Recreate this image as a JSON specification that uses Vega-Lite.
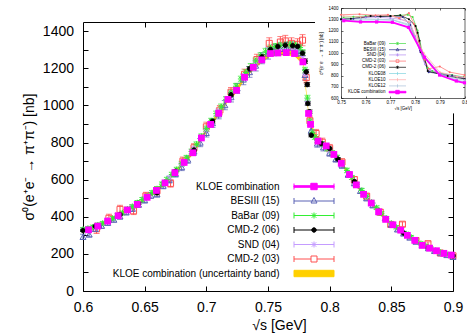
{
"$schema": "https://vega.github.io/schema/vega-lite/v6.json",
"width": 370, "height": 269,
"autosize": {"type": "none"},
"padding": {"left": 83, "top": 22, "right": 14, "bottom": 44},
"background": "white",
"config": {
  "font": "Liberation Sans",
  "view": {"stroke": null},
  "axis": {"grid": false, "domainColor": "#000", "tickColor": "#000", "labelColor": "#000", "titleColor": "#000", "titleFontWeight": "normal", "labelFlush": false, "labelOverlap": false, "tickWidth": 1, "domainWidth": 1, "labelFont": "Liberation Sans", "titleFont": "Liberation Sans"},
  "legend": {"labelFont": "Liberation Sans", "labelColor": "#000"}
},
"datasets": {
"kloe": [
{"s":0.6045,"v":330,"d":6,"b":8},{"s":0.612,"v":350,"d":6,"b":8},{"s":0.620,"v":377,"d":6,"b":8},{"s":0.6285,"v":406,"d":6,"b":8},
{"s":0.636,"v":437,"d":6,"b":9},{"s":0.644,"v":467,"d":6,"b":9},{"s":0.652,"v":505,"d":7,"b":9},{"s":0.6595,"v":542,"d":7,"b":10},
{"s":0.6665,"v":583,"d":7,"b":10},{"s":0.6745,"v":638,"d":7,"b":10},{"s":0.682,"v":693,"d":8,"b":11},{"s":0.689,"v":745,"d":8,"b":11},
{"s":0.696,"v":825,"d":8,"b":12},{"s":0.7035,"v":898,"d":8,"b":12},{"s":0.710,"v":958,"d":9,"b":12},{"s":0.7175,"v":1033,"d":9,"b":13},
{"s":0.7245,"v":1082,"d":9,"b":13},{"s":0.731,"v":1152,"d":9,"b":13},{"s":0.738,"v":1206,"d":10,"b":14},{"s":0.745,"v":1246,"d":10,"b":14},
{"s":0.752,"v":1280,"d":10,"b":14},{"s":0.758,"v":1283,"d":10,"b":14},{"s":0.7648,"v":1285,"d":10,"b":14},{"s":0.7715,"v":1280,"d":10,"b":14},
{"s":0.7783,"v":1235,"d":10,"b":14},{"s":0.7829,"v":957,"d":9,"b":12},{"s":0.7845,"v":898,"d":9,"b":12},{"s":0.7905,"v":808,"d":8,"b":11},
{"s":0.7972,"v":782,"d":8,"b":11},{"s":0.8034,"v":736,"d":8,"b":10},{"s":0.8094,"v":688,"d":7,"b":10},{"s":0.8161,"v":628,"d":7,"b":9},
{"s":0.8216,"v":572,"d":7,"b":9},{"s":0.8275,"v":521,"d":6,"b":8},{"s":0.8337,"v":474,"d":6,"b":8},{"s":0.8397,"v":427,"d":6,"b":8},
{"s":0.8454,"v":386,"d":5,"b":7},{"s":0.8513,"v":357,"d":5,"b":7},{"s":0.8576,"v":328,"d":5,"b":7},{"s":0.863,"v":300,"d":5,"b":6},
{"s":0.869,"v":273,"d":4,"b":6},{"s":0.875,"v":246,"d":4,"b":6},{"s":0.881,"v":231,"d":4,"b":6},{"s":0.8866,"v":217,"d":4,"b":6},
{"s":0.8926,"v":203,"d":4,"b":5},{"s":0.8986,"v":194,"d":4,"b":5}
],
"main": [
{"e":"CMD-2 (03)","s":0.611,"v":335,"d":25},{"e":"CMD-2 (03)","s":0.621,"v":392,"d":22},{"e":"CMD-2 (03)","s":0.630,"v":440,"d":22},{"e":"CMD-2 (03)","s":0.641,"v":432,"d":20},
{"e":"CMD-2 (03)","s":0.651,"v":512,"d":20},{"e":"CMD-2 (03)","s":0.660,"v":540,"d":22},{"e":"CMD-2 (03)","s":0.671,"v":580,"d":20},{"e":"CMD-2 (03)","s":0.681,"v":700,"d":22},
{"e":"CMD-2 (03)","s":0.690,"v":772,"d":22},{"e":"CMD-2 (03)","s":0.700,"v":885,"d":25},{"e":"CMD-2 (03)","s":0.711,"v":975,"d":25},{"e":"CMD-2 (03)","s":0.720,"v":1072,"d":25},
{"e":"CMD-2 (03)","s":0.731,"v":1168,"d":28},{"e":"CMD-2 (03)","s":0.741,"v":1248,"d":28},{"e":"CMD-2 (03)","s":0.751,"v":1335,"d":30},{"e":"CMD-2 (03)","s":0.760,"v":1342,"d":30},
{"e":"CMD-2 (03)","s":0.764,"v":1348,"d":30},{"e":"CMD-2 (03)","s":0.769,"v":1335,"d":30},{"e":"CMD-2 (03)","s":0.774,"v":1330,"d":30},{"e":"CMD-2 (03)","s":0.778,"v":1352,"d":30},
{"e":"CMD-2 (03)","s":0.781,"v":1150,"d":28},{"e":"CMD-2 (03)","s":0.784,"v":918,"d":25},{"e":"CMD-2 (03)","s":0.789,"v":849,"d":22},{"e":"CMD-2 (03)","s":0.794,"v":802,"d":22},
{"e":"CMD-2 (03)","s":0.800,"v":770,"d":20},{"e":"CMD-2 (03)","s":0.810,"v":695,"d":18},{"e":"CMD-2 (03)","s":0.820,"v":600,"d":17},{"e":"CMD-2 (03)","s":0.830,"v":511,"d":15},
{"e":"CMD-2 (03)","s":0.841,"v":425,"d":14},{"e":"CMD-2 (03)","s":0.8495,"v":359,"d":12},{"e":"CMD-2 (03)","s":0.859,"v":360,"d":12},{"e":"CMD-2 (03)","s":0.870,"v":272,"d":10},
{"e":"CMD-2 (03)","s":0.8797,"v":255,"d":10},{"e":"CMD-2 (03)","s":0.8897,"v":205,"d":8},{"e":"CMD-2 (03)","s":0.900,"v":190,"d":8},
{"e":"BESIII (15)","s":0.600,"v":292,"d":14},{"e":"BESIII (15)","s":0.605,"v":305,"d":14},{"e":"BESIII (15)","s":0.610,"v":335,"d":14},{"e":"BESIII (15)","s":0.615,"v":352,"d":14},
{"e":"BESIII (15)","s":0.620,"v":368,"d":14},{"e":"BESIII (15)","s":0.625,"v":385,"d":14},{"e":"BESIII (15)","s":0.630,"v":402,"d":14},{"e":"BESIII (15)","s":0.635,"v":425,"d":15},
{"e":"BESIII (15)","s":0.640,"v":444,"d":15},{"e":"BESIII (15)","s":0.645,"v":466,"d":15},{"e":"BESIII (15)","s":0.650,"v":490,"d":16},{"e":"BESIII (15)","s":0.655,"v":515,"d":16},
{"e":"BESIII (15)","s":0.660,"v":522,"d":16},{"e":"BESIII (15)","s":0.665,"v":568,"d":17},{"e":"BESIII (15)","s":0.670,"v":600,"d":18},{"e":"BESIII (15)","s":0.675,"v":632,"d":18},
{"e":"BESIII (15)","s":0.680,"v":668,"d":19},{"e":"BESIII (15)","s":0.685,"v":708,"d":20},{"e":"BESIII (15)","s":0.690,"v":752,"d":20},{"e":"BESIII (15)","s":0.695,"v":800,"d":22},
{"e":"BESIII (15)","s":0.700,"v":852,"d":22},{"e":"BESIII (15)","s":0.705,"v":905,"d":23},{"e":"BESIII (15)","s":0.710,"v":952,"d":24},{"e":"BESIII (15)","s":0.715,"v":1002,"d":25},
{"e":"BESIII (15)","s":0.720,"v":1045,"d":26},{"e":"BESIII (15)","s":0.725,"v":1092,"d":27},{"e":"BESIII (15)","s":0.730,"v":1140,"d":28},{"e":"BESIII (15)","s":0.735,"v":1180,"d":28},
{"e":"BESIII (15)","s":0.740,"v":1215,"d":29},{"e":"BESIII (15)","s":0.745,"v":1255,"d":30},{"e":"BESIII (15)","s":0.750,"v":1280,"d":30},{"e":"BESIII (15)","s":0.755,"v":1298,"d":30},
{"e":"BESIII (15)","s":0.760,"v":1305,"d":30},{"e":"BESIII (15)","s":0.765,"v":1310,"d":30},{"e":"BESIII (15)","s":0.770,"v":1312,"d":30},{"e":"BESIII (15)","s":0.775,"v":1295,"d":30},
{"e":"BESIII (15)","s":0.780,"v":1165,"d":28},{"e":"BESIII (15)","s":0.785,"v":865,"d":22},{"e":"BESIII (15)","s":0.790,"v":795,"d":20},{"e":"BESIII (15)","s":0.795,"v":775,"d":20},
{"e":"BESIII (15)","s":0.800,"v":745,"d":19},{"e":"BESIII (15)","s":0.805,"v":712,"d":18},{"e":"BESIII (15)","s":0.810,"v":678,"d":17},{"e":"BESIII (15)","s":0.815,"v":628,"d":16},
{"e":"BESIII (15)","s":0.820,"v":582,"d":15},{"e":"BESIII (15)","s":0.825,"v":540,"d":14},{"e":"BESIII (15)","s":0.830,"v":500,"d":13},{"e":"BESIII (15)","s":0.835,"v":462,"d":12},
{"e":"BESIII (15)","s":0.840,"v":425,"d":12},{"e":"BESIII (15)","s":0.845,"v":392,"d":11},{"e":"BESIII (15)","s":0.850,"v":358,"d":10},{"e":"BESIII (15)","s":0.855,"v":332,"d":10},
{"e":"BESIII (15)","s":0.860,"v":310,"d":9},{"e":"BESIII (15)","s":0.865,"v":288,"d":9},{"e":"BESIII (15)","s":0.870,"v":266,"d":8},{"e":"BESIII (15)","s":0.875,"v":247,"d":8},
{"e":"BESIII (15)","s":0.880,"v":231,"d":7},{"e":"BESIII (15)","s":0.885,"v":216,"d":7},{"e":"BESIII (15)","s":0.890,"v":204,"d":7},{"e":"BESIII (15)","s":0.895,"v":194,"d":6},
{"e":"BESIII (15)","s":0.900,"v":184,"d":6},
{"e":"SND (04)","s":0.600,"v":330,"d":6},{"e":"SND (04)","s":0.610,"v":348,"d":6},{"e":"SND (04)","s":0.620,"v":378,"d":7},{"e":"SND (04)","s":0.630,"v":412,"d":7},
{"e":"SND (04)","s":0.640,"v":455,"d":8},{"e":"SND (04)","s":0.650,"v":500,"d":8},{"e":"SND (04)","s":0.660,"v":548,"d":9},{"e":"SND (04)","s":0.670,"v":610,"d":10},
{"e":"SND (04)","s":0.680,"v":682,"d":11},{"e":"SND (04)","s":0.690,"v":768,"d":12},{"e":"SND (04)","s":0.700,"v":870,"d":13},{"e":"SND (04)","s":0.710,"v":968,"d":15},
{"e":"SND (04)","s":0.720,"v":1062,"d":16},{"e":"SND (04)","s":0.730,"v":1155,"d":17},{"e":"SND (04)","s":0.740,"v":1232,"d":18},{"e":"SND (04)","s":0.750,"v":1296,"d":19},
{"e":"SND (04)","s":0.760,"v":1318,"d":20},{"e":"SND (04)","s":0.764,"v":1322,"d":20},{"e":"SND (04)","s":0.770,"v":1316,"d":20},{"e":"SND (04)","s":0.774,"v":1305,"d":20},
{"e":"SND (04)","s":0.778,"v":1265,"d":19},{"e":"SND (04)","s":0.780,"v":1170,"d":18},{"e":"SND (04)","s":0.782,"v":1020,"d":16},{"e":"SND (04)","s":0.784,"v":910,"d":14},
{"e":"SND (04)","s":0.786,"v":855,"d":13},{"e":"SND (04)","s":0.790,"v":810,"d":12},{"e":"SND (04)","s":0.794,"v":790,"d":12},{"e":"SND (04)","s":0.800,"v":755,"d":11},
{"e":"SND (04)","s":0.810,"v":688,"d":10},{"e":"SND (04)","s":0.820,"v":590,"d":9},{"e":"SND (04)","s":0.830,"v":506,"d":8},{"e":"SND (04)","s":0.840,"v":432,"d":7},
{"e":"SND (04)","s":0.850,"v":364,"d":6},{"e":"SND (04)","s":0.860,"v":314,"d":5},{"e":"SND (04)","s":0.870,"v":271,"d":5},{"e":"SND (04)","s":0.880,"v":234,"d":4},
{"e":"SND (04)","s":0.890,"v":207,"d":4},{"e":"SND (04)","s":0.900,"v":189,"d":4},
{"e":"BaBar (09)","s":0.600,"v":332,"d":10},{"e":"BaBar (09)","s":0.604,"v":338,"d":10},{"e":"BaBar (09)","s":0.608,"v":345,"d":10},{"e":"BaBar (09)","s":0.612,"v":356,"d":10},
{"e":"BaBar (09)","s":0.616,"v":365,"d":10},{"e":"BaBar (09)","s":0.620,"v":380,"d":10},{"e":"BaBar (09)","s":0.624,"v":392,"d":10},{"e":"BaBar (09)","s":0.628,"v":408,"d":10},
{"e":"BaBar (09)","s":0.632,"v":421,"d":10},{"e":"BaBar (09)","s":0.636,"v":442,"d":10},{"e":"BaBar (09)","s":0.640,"v":455,"d":11},{"e":"BaBar (09)","s":0.644,"v":476,"d":11},
{"e":"BaBar (09)","s":0.648,"v":493,"d":11},{"e":"BaBar (09)","s":0.652,"v":512,"d":11},{"e":"BaBar (09)","s":0.656,"v":530,"d":11},{"e":"BaBar (09)","s":0.660,"v":551,"d":12},
{"e":"BaBar (09)","s":0.664,"v":576,"d":12},{"e":"BaBar (09)","s":0.668,"v":601,"d":12},{"e":"BaBar (09)","s":0.672,"v":628,"d":12},{"e":"BaBar (09)","s":0.676,"v":655,"d":12},
{"e":"BaBar (09)","s":0.680,"v":686,"d":13},{"e":"BaBar (09)","s":0.684,"v":718,"d":13},{"e":"BaBar (09)","s":0.688,"v":752,"d":13},{"e":"BaBar (09)","s":0.692,"v":791,"d":13},
{"e":"BaBar (09)","s":0.696,"v":833,"d":14},{"e":"BaBar (09)","s":0.700,"v":875,"d":14},{"e":"BaBar (09)","s":0.704,"v":917,"d":14},{"e":"BaBar (09)","s":0.708,"v":956,"d":14},
{"e":"BaBar (09)","s":0.712,"v":993,"d":15},{"e":"BaBar (09)","s":0.716,"v":1033,"d":15},{"e":"BaBar (09)","s":0.720,"v":1068,"d":15},{"e":"BaBar (09)","s":0.724,"v":1104,"d":15},
{"e":"BaBar (09)","s":0.728,"v":1143,"d":15},{"e":"BaBar (09)","s":0.732,"v":1178,"d":15},{"e":"BaBar (09)","s":0.736,"v":1210,"d":16},{"e":"BaBar (09)","s":0.740,"v":1240,"d":16},
{"e":"BaBar (09)","s":0.744,"v":1268,"d":16},{"e":"BaBar (09)","s":0.748,"v":1292,"d":16},{"e":"BaBar (09)","s":0.752,"v":1310,"d":16},{"e":"BaBar (09)","s":0.756,"v":1318,"d":16},
{"e":"BaBar (09)","s":0.760,"v":1324,"d":16},{"e":"BaBar (09)","s":0.764,"v":1326,"d":16},{"e":"BaBar (09)","s":0.768,"v":1328,"d":16},{"e":"BaBar (09)","s":0.772,"v":1325,"d":16},
{"e":"BaBar (09)","s":0.776,"v":1312,"d":16},{"e":"BaBar (09)","s":0.778,"v":1285,"d":16},{"e":"BaBar (09)","s":0.780,"v":1190,"d":16},{"e":"BaBar (09)","s":0.782,"v":1040,"d":15},
{"e":"BaBar (09)","s":0.784,"v":915,"d":14},{"e":"BaBar (09)","s":0.786,"v":855,"d":14},{"e":"BaBar (09)","s":0.788,"v":830,"d":13},{"e":"BaBar (09)","s":0.790,"v":812,"d":13},
{"e":"BaBar (09)","s":0.794,"v":792,"d":13},{"e":"BaBar (09)","s":0.798,"v":768,"d":13},{"e":"BaBar (09)","s":0.802,"v":745,"d":12},{"e":"BaBar (09)","s":0.806,"v":720,"d":12},
{"e":"BaBar (09)","s":0.810,"v":690,"d":12},{"e":"BaBar (09)","s":0.814,"v":650,"d":12},{"e":"BaBar (09)","s":0.818,"v":612,"d":11},{"e":"BaBar (09)","s":0.822,"v":575,"d":11},
{"e":"BaBar (09)","s":0.826,"v":542,"d":11},{"e":"BaBar (09)","s":0.830,"v":509,"d":10},{"e":"BaBar (09)","s":0.834,"v":479,"d":10},{"e":"BaBar (09)","s":0.838,"v":449,"d":10},
{"e":"BaBar (09)","s":0.842,"v":419,"d":10},{"e":"BaBar (09)","s":0.846,"v":392,"d":9},{"e":"BaBar (09)","s":0.850,"v":365,"d":9},{"e":"BaBar (09)","s":0.854,"v":344,"d":9},
{"e":"BaBar (09)","s":0.858,"v":325,"d":9},{"e":"BaBar (09)","s":0.862,"v":308,"d":8},{"e":"BaBar (09)","s":0.866,"v":291,"d":8},{"e":"BaBar (09)","s":0.870,"v":273,"d":8},
{"e":"BaBar (09)","s":0.874,"v":256,"d":8},{"e":"BaBar (09)","s":0.878,"v":243,"d":8},{"e":"BaBar (09)","s":0.882,"v":231,"d":7},{"e":"BaBar (09)","s":0.886,"v":219,"d":7},
{"e":"BaBar (09)","s":0.890,"v":209,"d":7},{"e":"BaBar (09)","s":0.894,"v":201,"d":7},{"e":"BaBar (09)","s":0.898,"v":194,"d":7},
{"e":"CMD-2 (06)","s":0.600,"v":326,"d":5},{"e":"CMD-2 (06)","s":0.610,"v":349,"d":5},{"e":"CMD-2 (06)","s":0.630,"v":412,"d":6},{"e":"CMD-2 (06)","s":0.645,"v":472,"d":6},
{"e":"CMD-2 (06)","s":0.660,"v":530,"d":7},{"e":"CMD-2 (06)","s":0.675,"v":645,"d":8},{"e":"CMD-2 (06)","s":0.690,"v":760,"d":9},{"e":"CMD-2 (06)","s":0.705,"v":915,"d":10},
{"e":"CMD-2 (06)","s":0.720,"v":1058,"d":11},{"e":"CMD-2 (06)","s":0.735,"v":1198,"d":12},{"e":"CMD-2 (06)","s":0.745,"v":1262,"d":12},{"e":"CMD-2 (06)","s":0.752,"v":1302,"d":12},
{"e":"CMD-2 (06)","s":0.758,"v":1318,"d":12},{"e":"CMD-2 (06)","s":0.764,"v":1325,"d":12},{"e":"CMD-2 (06)","s":0.770,"v":1322,"d":12},{"e":"CMD-2 (06)","s":0.774,"v":1318,"d":12},
{"e":"CMD-2 (06)","s":0.778,"v":1282,"d":12},{"e":"CMD-2 (06)","s":0.780,"v":1239,"d":12},{"e":"CMD-2 (06)","s":0.781,"v":1181,"d":12},{"e":"CMD-2 (06)","s":0.7818,"v":1113,"d":11},
{"e":"CMD-2 (06)","s":0.7823,"v":1011,"d":10},{"e":"CMD-2 (06)","s":0.7837,"v":966,"d":10},{"e":"CMD-2 (06)","s":0.7851,"v":840,"d":9},{"e":"CMD-2 (06)","s":0.7932,"v":795,"d":8},
{"e":"CMD-2 (06)","s":0.800,"v":768,"d":8},{"e":"CMD-2 (06)","s":0.8067,"v":711,"d":8},{"e":"CMD-2 (06)","s":0.820,"v":590,"d":7},{"e":"CMD-2 (06)","s":0.840,"v":430,"d":6},
{"e":"CMD-2 (06)","s":0.860,"v":312,"d":5},{"e":"CMD-2 (06)","s":0.880,"v":234,"d":5},{"e":"CMD-2 (06)","s":0.900,"v":190,"d":4}
],
"ins": [
{"e":"BaBar (09)","s":0.751,"v":1318},{"e":"BaBar (09)","s":0.755,"v":1322},{"e":"BaBar (09)","s":0.760,"v":1328},{"e":"BaBar (09)","s":0.765,"v":1330},{"e":"BaBar (09)","s":0.770,"v":1330},
{"e":"BaBar (09)","s":0.774,"v":1335},{"e":"BaBar (09)","s":0.777,"v":1340},{"e":"BaBar (09)","s":0.779,"v":1320},{"e":"BaBar (09)","s":0.781,"v":1200},{"e":"BaBar (09)","s":0.783,"v":1000},
{"e":"BaBar (09)","s":0.785,"v":870},{"e":"BaBar (09)","s":0.787,"v":840},{"e":"BaBar (09)","s":0.790,"v":820},{"e":"BaBar (09)","s":0.795,"v":805},{"e":"BaBar (09)","s":0.800,"v":785},
{"e":"BESIII (15)","s":0.750,"v":1300},{"e":"BESIII (15)","s":0.755,"v":1305},{"e":"BESIII (15)","s":0.760,"v":1320},{"e":"BESIII (15)","s":0.765,"v":1330},{"e":"BESIII (15)","s":0.770,"v":1325},
{"e":"BESIII (15)","s":0.775,"v":1320},{"e":"BESIII (15)","s":0.778,"v":1250},{"e":"BESIII (15)","s":0.782,"v":1020},{"e":"BESIII (15)","s":0.7855,"v":830},{"e":"BESIII (15)","s":0.790,"v":815},
{"e":"BESIII (15)","s":0.795,"v":800},{"e":"BESIII (15)","s":0.800,"v":775},
{"e":"SND (04)","s":0.750,"v":1295},{"e":"SND (04)","s":0.760,"v":1315},{"e":"SND (04)","s":0.764,"v":1320},{"e":"SND (04)","s":0.770,"v":1310},{"e":"SND (04)","s":0.774,"v":1300},
{"e":"SND (04)","s":0.778,"v":1270},{"e":"SND (04)","s":0.780,"v":1150},{"e":"SND (04)","s":0.782,"v":1010},{"e":"SND (04)","s":0.784,"v":900},{"e":"SND (04)","s":0.786,"v":850},
{"e":"SND (04)","s":0.790,"v":815},{"e":"SND (04)","s":0.794,"v":800},{"e":"SND (04)","s":0.800,"v":780},
{"e":"CMD-2 (03)","s":0.750,"v":1340},{"e":"CMD-2 (03)","s":0.7575,"v":1345},{"e":"CMD-2 (03)","s":0.764,"v":1335},{"e":"CMD-2 (03)","s":0.769,"v":1340},{"e":"CMD-2 (03)","s":0.7735,"v":1310},
{"e":"CMD-2 (03)","s":0.7775,"v":1355},{"e":"CMD-2 (03)","s":0.7795,"v":1260},{"e":"CMD-2 (03)","s":0.7815,"v":1100},{"e":"CMD-2 (03)","s":0.7838,"v":940},{"e":"CMD-2 (03)","s":0.7855,"v":860},
{"e":"CMD-2 (03)","s":0.790,"v":880},{"e":"CMD-2 (03)","s":0.794,"v":830},{"e":"CMD-2 (03)","s":0.800,"v":805},
{"e":"CMD-2 (06)","s":0.750,"v":1300},{"e":"CMD-2 (06)","s":0.754,"v":1305},{"e":"CMD-2 (06)","s":0.758,"v":1315},{"e":"CMD-2 (06)","s":0.762,"v":1330},{"e":"CMD-2 (06)","s":0.766,"v":1325},
{"e":"CMD-2 (06)","s":0.770,"v":1330},{"e":"CMD-2 (06)","s":0.774,"v":1335},{"e":"CMD-2 (06)","s":0.7775,"v":1300},{"e":"CMD-2 (06)","s":0.7802,"v":1240},{"e":"CMD-2 (06)","s":0.781,"v":1180},
{"e":"CMD-2 (06)","s":0.7818,"v":1110},{"e":"CMD-2 (06)","s":0.7823,"v":1010},{"e":"CMD-2 (06)","s":0.7837,"v":965},{"e":"CMD-2 (06)","s":0.7851,"v":840},{"e":"CMD-2 (06)","s":0.7932,"v":795},
{"e":"CMD-2 (06)","s":0.800,"v":770},
{"e":"KLOE08","s":0.751,"v":1290},{"e":"KLOE08","s":0.758,"v":1293},{"e":"KLOE08","s":0.765,"v":1295},{"e":"KLOE08","s":0.771,"v":1292},{"e":"KLOE08","s":0.7775,"v":1245},
{"e":"KLOE08","s":0.7835,"v":970},{"e":"KLOE08","s":0.790,"v":812},{"e":"KLOE08","s":0.797,"v":758},{"e":"KLOE08","s":0.800,"v":745},
{"e":"KLOE10","s":0.751,"v":1330},{"e":"KLOE10","s":0.758,"v":1320},{"e":"KLOE10","s":0.765,"v":1335},{"e":"KLOE10","s":0.771,"v":1330},{"e":"KLOE10","s":0.7775,"v":1275},
{"e":"KLOE10","s":0.7835,"v":1000},{"e":"KLOE10","s":0.790,"v":830},{"e":"KLOE10","s":0.797,"v":790},{"e":"KLOE10","s":0.800,"v":785},
{"e":"KLOE12","s":0.751,"v":1300},{"e":"KLOE12","s":0.758,"v":1305},{"e":"KLOE12","s":0.765,"v":1300},{"e":"KLOE12","s":0.771,"v":1295},{"e":"KLOE12","s":0.7775,"v":1255},
{"e":"KLOE12","s":0.7835,"v":980},{"e":"KLOE12","s":0.790,"v":815},{"e":"KLOE12","s":0.797,"v":770},{"e":"KLOE12","s":0.800,"v":760}
],
"insk": [
{"s":0.7511,"v":1287},{"s":0.7579,"v":1276},{"s":0.7644,"v":1276},{"s":0.7708,"v":1273},{"s":0.7773,"v":1228},
{"s":0.7838,"v":962},{"s":0.7899,"v":804},{"s":0.7967,"v":751},{"s":0.800,"v":735}
]
},
"resolve": {"scale": {"x": "independent", "y": "independent", "color": "independent", "shape": "independent", "fill": "independent", "stroke": "independent"}, "axis": {"x": "independent", "y": "independent"}},
"layer": [
{"data": {"name": "kloe"},
 "mark": {"type": "errorband", "color": "#ffd000", "band": {"opacity": 1}, "borders": false},
 "encoding": {
  "x": {"field": "s", "type": "quantitative", "scale": {"domain": [0.6, 0.9], "range": [0, 370], "nice": false, "zero": false}, "axis": null},
  "y": {"field": "v", "type": "quantitative", "scale": {"domain": [0, 1450], "range": [269, 0], "nice": false, "zero": false}, "axis": null},
  "yError": {"field": "b"}}},
{"data": {"name": "main"},
 "mark": {"type": "errorbar", "ticks": {"size": 6}, "thickness": 1},
 "encoding": {
  "x": {"field": "s", "type": "quantitative", "scale": {"domain": [0.6, 0.9], "range": [0, 370], "nice": false, "zero": false}, "axis": null},
  "y": {"field": "v", "type": "quantitative", "scale": {"domain": [0, 1450], "range": [269, 0], "nice": false, "zero": false}, "axis": null},
  "yError": {"field": "d"},
  "color": {"field": "e", "type": "nominal", "scale": {"domain": ["CMD-2 (03)", "BESIII (15)", "SND (04)", "BaBar (09)", "CMD-2 (06)"], "range": ["#ff5050", "#5b62b5", "#c49cff", "#33ee33", "#000000"]}, "legend": null}}},
{"data": {"name": "main"},
 "mark": {"type": "point", "opacity": 1, "strokeWidth": 1, "size": 36},
 "encoding": {
  "x": {"field": "s", "type": "quantitative", "scale": {"domain": [0.6, 0.9], "range": [0, 370], "nice": false, "zero": false}, "axis": null},
  "y": {"field": "v", "type": "quantitative", "scale": {"domain": [0, 1450], "range": [269, 0], "nice": false, "zero": false}, "axis": null},
  "shape": {"field": "e", "type": "nominal", "scale": {"domain": ["CMD-2 (03)", "BESIII (15)", "SND (04)", "BaBar (09)", "CMD-2 (06)"], "range": ["square", "triangle-up", "M-1,0H1M0,-1V1M-0.7,-0.7L0.7,0.7M-0.7,0.7L0.7,-0.7", "M-1,0H1M0,-1V1M-0.7,-0.7L0.7,0.7M-0.7,0.7L0.7,-0.7", "M0.75,0A0.75,0.75 0 1,1 -0.75,0A0.75,0.75 0 1,1 0.75,0Z"]}, "legend": null},
  "stroke": {"field": "e", "type": "nominal", "scale": {"domain": ["CMD-2 (03)", "BESIII (15)", "SND (04)", "BaBar (09)", "CMD-2 (06)"], "range": ["#ff5050", "#5b62b5", "#c49cff", "#33ee33", "#000000"]}, "legend": null},
  "fill": {"field": "e", "type": "nominal", "scale": {"domain": ["CMD-2 (03)", "BESIII (15)", "SND (04)", "BaBar (09)", "CMD-2 (06)"], "range": ["transparent", "transparent", "transparent", "transparent", "#000000"]}, "legend": null}}},
{"data": {"name": "kloe"},
 "mark": {"type": "errorbar", "ticks": {"size": 6}, "thickness": 1.5, "color": "#ff00ff"},
 "encoding": {
  "x": {"field": "s", "type": "quantitative", "scale": {"domain": [0.6, 0.9], "range": [0, 370], "nice": false, "zero": false}, "axis": null},
  "y": {"field": "v", "type": "quantitative", "scale": {"domain": [0, 1450], "range": [269, 0], "nice": false, "zero": false}, "axis": null},
  "yError": {"field": "d"}}},
{"data": {"name": "kloe"},
 "mark": {"type": "square", "color": "#ff00ff", "opacity": 1, "size": 46},
 "encoding": {
  "x": {"field": "s", "type": "quantitative", "scale": {"domain": [0.6, 0.9], "range": [0, 370], "nice": false, "zero": false},
        "axis": {"orient": "bottom", "values": [0.6, 0.65, 0.7, 0.75, 0.8, 0.85, 0.9], "format": ".2~f", "labelFontSize": 14, "tickSize": -5, "labelPadding": 14, "title": "√s [GeV]", "titleFontSize": 14, "titlePadding": 4, "titleX": 196}},
  "y": {"field": "v", "type": "quantitative", "scale": {"domain": [0, 1450], "range": [269, 0], "nice": false, "zero": false},
        "axis": {"orient": "left", "values": [0, 200, 400, 600, 800, 1000, 1200, 1400], "format": "d", "labelFontSize": 14, "tickSize": -5, "labelPadding": 14.5, "title": "σ⁰(e⁺e⁻ → π⁺π⁻) [nb]", "titleFontSize": 14, "titlePadding": 6}}}},
{"data": {"values": []},
 "mark": {"type": "point"},
 "encoding": {
  "y": {"field": "v", "type": "quantitative", "scale": {"domain": [0, 1450], "range": [269, 0], "nice": false, "zero": false},
        "axis": {"orient": "left", "values": [100, 300, 500, 700, 900, 1100, 1300], "labels": false, "domain": false, "tickSize": -5, "title": null}}}},
{"data": {"values": []},
 "mark": {"type": "point"},
 "encoding": {
  "x": {"field": "s", "type": "quantitative", "scale": {"domain": [0.6, 0.7877], "range": [0, 231.5], "nice": false, "zero": false},
        "axis": {"orient": "top", "values": [0.65, 0.7, 0.75], "labels": false, "tickSize": -5, "title": null}}}},
{"data": {"values": []},
 "mark": {"type": "point"},
 "encoding": {
  "y": {"field": "v", "type": "quantitative", "scale": {"domain": [0, 960], "range": [269, 90.9], "nice": false, "zero": false},
        "axis": {"orient": "right", "values": [100, 200, 300, 400, 500, 600, 700, 800, 900], "labels": false, "tickSize": -5, "title": null}}}},
{"data": {"name": "ins"},
 "mark": {"type": "line", "strokeWidth": 0.7},
 "encoding": {
  "x": {"field": "s", "type": "quantitative", "scale": {"domain": [0.75, 0.8], "range": [258, 381.5], "nice": false, "zero": false},
        "axis": {"orient": "bottom", "offset": -193, "values": [0.75, 0.76, 0.77, 0.78, 0.79, 0.8], "format": ".2~f", "labelFontSize": 4.5, "tickSize": -2, "labelPadding": 3.5, "title": "√s [GeV]", "titleFontSize": 4.5, "titlePadding": 1, "domainWidth": 0.6, "tickWidth": 0.6}},
  "y": {"field": "v", "type": "quantitative", "scale": {"domain": [600, 1400], "range": [76, -14], "nice": false, "zero": false},
        "axis": {"orient": "left", "offset": -258, "values": [600, 700, 800, 900, 1000, 1100, 1200, 1300, 1400], "format": "d", "labelFontSize": 4.5, "tickSize": -2, "labelPadding": 5, "title": "σ⁰(e⁺e⁻ → π⁺π⁻) [nb]", "titleFontSize": 4.5, "titlePadding": 4, "domainWidth": 0.6, "tickWidth": 0.6}},
  "stroke": {"field": "e", "type": "nominal", "scale": {"domain": ["BaBar (09)", "BESIII (15)", "SND (04)", "CMD-2 (03)", "CMD-2 (06)", "KLOE08", "KLOE10", "KLOE12"], "range": ["#44dd44", "#2c2c8c", "#b48cf0", "#ff6a6a", "#000000", "#7fd4e0", "#ffaaaa", "#a8c0d8"]}, "legend": null}}},
{"data": {"name": "ins"},
 "mark": {"type": "point", "filled": true, "opacity": 1, "size": 4},
 "encoding": {
  "x": {"field": "s", "type": "quantitative", "scale": {"domain": [0.75, 0.8], "range": [258, 381.5], "nice": false, "zero": false}, "axis": null},
  "y": {"field": "v", "type": "quantitative", "scale": {"domain": [600, 1400], "range": [76, -14], "nice": false, "zero": false}, "axis": null},
  "color": {"field": "e", "type": "nominal", "scale": {"domain": ["BaBar (09)", "BESIII (15)", "SND (04)", "CMD-2 (03)", "CMD-2 (06)", "KLOE08", "KLOE10", "KLOE12"], "range": ["#44dd44", "#2c2c8c", "#b48cf0", "#ff6a6a", "#000000", "#7fd4e0", "#ffaaaa", "#a8c0d8"]}, "legend": null}}},
{"data": {"name": "insk"},
 "mark": {"type": "line", "strokeWidth": 1.8, "color": "#ff00ff"},
 "encoding": {
  "x": {"field": "s", "type": "quantitative", "scale": {"domain": [0.75, 0.8], "range": [258, 381.5], "nice": false, "zero": false}, "axis": null},
  "y": {"field": "v", "type": "quantitative", "scale": {"domain": [600, 1400], "range": [76, -14], "nice": false, "zero": false}, "axis": null}}},
{"data": {"name": "insk"},
 "mark": {"type": "square", "color": "#ff00ff", "opacity": 1, "size": 10},
 "encoding": {
  "x": {"field": "s", "type": "quantitative", "scale": {"domain": [0.75, 0.8], "range": [258, 381.5], "nice": false, "zero": false}, "axis": null},
  "y": {"field": "v", "type": "quantitative", "scale": {"domain": [600, 1400], "range": [76, -14], "nice": false, "zero": false}, "axis": null}}},
{"data": {"values": []},
 "mark": {"type": "point"},
 "encoding": {
  "x": {"field": "s", "type": "quantitative", "scale": {"domain": [0.75, 0.8], "range": [258, 381.5], "nice": false, "zero": false},
        "axis": {"orient": "top", "offset": 14, "values": [0.75, 0.76, 0.77, 0.78, 0.79, 0.8], "labels": false, "tickSize": -2, "title": null, "domainWidth": 0.6, "tickWidth": 0.6}}}},
{"data": {"values": []},
 "mark": {"type": "point"},
 "encoding": {
  "y": {"field": "v", "type": "quantitative", "scale": {"domain": [600, 1400], "range": [76, -14], "nice": false, "zero": false},
        "axis": {"orient": "right", "offset": 11.5, "values": [600, 700, 800, 900, 1000, 1100, 1200, 1300, 1400], "labels": false, "tickSize": -2, "title": null, "domainWidth": 0.6, "tickWidth": 0.6}}}},
{"data": {"values": []},
 "mark": {"type": "point", "opacity": 1},
 "encoding": {
  "shape": {"field": "series", "type": "nominal",
    "scale": {"domain": ["KLOE combination", "BESIII (15)", "BaBar (09)", "CMD-2 (06)", "SND (04)", "CMD-2 (03)", "KLOE combination (uncertainty band)"],
              "range": ["M-4,-0.6V0.6M4,-0.6V0.6M-4,-0.16H4V0.16H-4ZM-0.64,-0.64H0.64V0.64H-0.64Z",
                        "M-4,-0.6V0.6M4,-0.6V0.6M-4,0H4M0,-0.7L0.6,0.4H-0.6Z",
                        "M-4,-0.6V0.6M4,-0.6V0.6M-4,0H4M0,-0.6V0.6M-0.45,-0.45L0.45,0.45M-0.45,0.45L0.45,-0.45",
                        "M-4,-0.6V0.6M4,-0.6V0.6M-4,0H4M0.45,0A0.45,0.45 0 1,1 -0.45,0A0.45,0.45 0 1,1 0.45,0Z",
                        "M-4,-0.6V0.6M4,-0.6V0.6M-4,0H4M0,-0.6V0.6M-0.45,-0.45L0.45,0.45M-0.45,0.45L0.45,-0.45",
                        "M-4,-0.6V0.6M4,-0.6V0.6M-4,0H-0.6M0.6,0H4M-0.6,-0.6H0.6V0.6H-0.6Z",
                        "M-4,-0.64H4V0.64H-4Z"]},
    "legend": {"title": null, "orient": "none", "legendX": 210.5, "legendY": 159, "symbolSize": 100, "symbolOffset": 15, "symbolStrokeWidth": 1, "labelFontSize": 10, "labelAlign": "right", "labelOffset": -40, "rowPadding": 3.5, "padding": 0, "labelLimit": 300, "symbolOpacity": 1}},
  "stroke": {"field": "series", "type": "nominal",
    "scale": {"domain": ["KLOE combination", "BESIII (15)", "BaBar (09)", "CMD-2 (06)", "SND (04)", "CMD-2 (03)", "KLOE combination (uncertainty band)"],
              "range": ["#ff00ff", "#5b62b5", "#33ee33", "#000000", "#c49cff", "#ff5050", "#ffd000"]}},
  "fill": {"field": "series", "type": "nominal",
    "scale": {"domain": ["KLOE combination", "BESIII (15)", "BaBar (09)", "CMD-2 (06)", "SND (04)", "CMD-2 (03)", "KLOE combination (uncertainty band)"],
              "range": ["#ff00ff", "transparent", "transparent", "#000000", "transparent", "transparent", "#ffd000"]}}}},
{"data": {"values": []},
 "mark": {"type": "point", "opacity": 1},
 "encoding": {
  "shape": {"field": "iseries", "type": "nominal",
    "scale": {"domain": ["BaBar (09)", "BESIII (15)", "SND (04)", "CMD-2 (03)", "CMD-2 (06)", "KLOE08", "KLOE10", "KLOE12", "KLOE combination"],
              "range": ["M-4.25,0H4.25M0,-0.8V0.8M-0.6,-0.6L0.6,0.6M-0.6,0.6L0.6,-0.6",
                        "M-4.25,0H4.25M0,-0.8L0.7,0.5H-0.7Z",
                        "M-4.25,0H4.25M0,-0.8V0.8M-0.6,-0.6L0.6,0.6M-0.6,0.6L0.6,-0.6",
                        "M-4.25,0H4.25M-0.7,-0.7H0.7V0.7H-0.7Z",
                        "M-4.25,0H4.25M0,-0.8V0.8M-0.6,-0.6L0.6,0.6M-0.6,0.6L0.6,-0.6",
                        "M-4.25,0H4.25M0,-0.8V0.8",
                        "M-4.25,0H4.25M0,-0.8V0.8",
                        "M-4.25,0H4.25M0,-0.8V0.8",
                        "M-4.25,-0.4H4.25V0.4H-4.25ZM-0.9,-0.9H0.9V0.9H-0.9Z"]},
    "legend": {"title": null, "orient": "none", "legendX": 305.5, "legendY": 19, "symbolSize": 16, "symbolOffset": 6.5, "symbolStrokeWidth": 0.7, "labelFontSize": 4.5, "labelAlign": "right", "labelOffset": -14.5, "rowPadding": -0.8, "padding": 0, "labelLimit": 200, "symbolOpacity": 1}},
  "stroke": {"field": "iseries", "type": "nominal",
    "scale": {"domain": ["BaBar (09)", "BESIII (15)", "SND (04)", "CMD-2 (03)", "CMD-2 (06)", "KLOE08", "KLOE10", "KLOE12", "KLOE combination"],
              "range": ["#44dd44", "#2c2c8c", "#b48cf0", "#ff6a6a", "#000000", "#7fd4e0", "#ffaaaa", "#a8c0d8", "#ff00ff"]}},
  "fill": {"field": "iseries", "type": "nominal",
    "scale": {"domain": ["BaBar (09)", "BESIII (15)", "SND (04)", "CMD-2 (03)", "CMD-2 (06)", "KLOE08", "KLOE10", "KLOE12", "KLOE combination"],
              "range": ["transparent", "transparent", "transparent", "transparent", "transparent", "transparent", "transparent", "transparent", "#ff00ff"]}}}}
]
}
